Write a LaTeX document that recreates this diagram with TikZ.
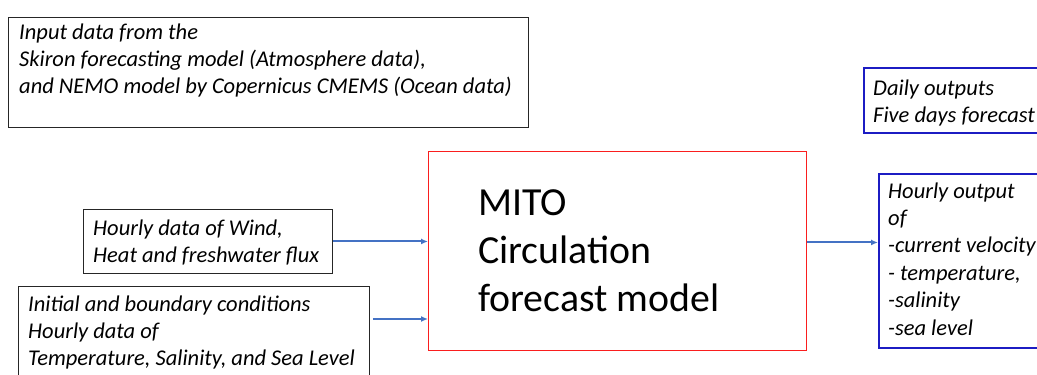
\documentclass[tikz,border=0pt]{standalone}
\usepackage{fontspec}
\setmainfont{Carlito}
\usetikzlibrary{arrows.meta}
\definecolor{arrblue}{RGB}{68,114,196}
\definecolor{boxblue}{RGB}{28,28,195}
\definecolor{boxred}{RGB}{250,30,30}
\tikzset{
  txt/.style={anchor=base west, align=left, inner sep=0pt, font=\fontsize{22.5}{27}\selectfont\itshape},
  bigtxt/.style={anchor=base west, align=left, inner sep=0pt, font=\fontsize{39.8}{48}\selectfont},
  blkbox/.style={draw=black!85, line width=0.9pt, anchor=north west, inner sep=0pt},
  bluebox/.style={draw=boxblue, line width=1.8pt, anchor=north west, inner sep=0pt},
  redbox/.style={draw=boxred, line width=0.9pt, anchor=north west, inner sep=0pt},
  arr/.style={draw=arrblue, line width=2pt, -{Latex[length=7pt,width=6pt]}}
}
\begin{document}
\begin{tikzpicture}[x=1pt,y=-1pt]
\clip (0,0) rectangle (1037,375);
% boxes
\node[blkbox, minimum width=520pt, minimum height=110pt] (top) at (8,17) {};
\node[blkbox, minimum width=249pt, minimum height=64pt] (wind) at (83,209) {};
\node[blkbox, minimum width=351pt, minimum height=100pt] (init) at (18,286) {};
\node[redbox, minimum width=378pt, minimum height=199pt] (red) at (428,151) {};
\node[bluebox, minimum width=190pt, minimum height=65pt] (daily) at (863,67) {};
\node[bluebox, minimum width=175pt, minimum height=174pt] (out) at (878,173) {};
% texts (anchored at the baseline of the last line)
\node[txt] (toptext) at (19,93) {Input data from the\\Skiron forecasting model (Atmosphere data),\\and NEMO model by Copernicus CMEMS (Ocean data)};
\node[txt] (windtext) at (93,262) {Hourly data of Wind,\\Heat and freshwater flux};
\node[txt] (inittext) at (28,365) {Initial and boundary conditions\\Hourly data of\\Temperature, Salinity, and Sea Level};
\node[bigtxt] (redtext) at (478,311) {MITO\\Circulation\\forecast model};
\node[txt] (dailytext) at (873,122) {Daily outputs\\Five days forecast};
\node[txt, font=\fontsize{22.5}{27.4}\selectfont\itshape] (outtext) at (888,335) {Hourly output\\of\\-current velocity\\- temperature,\\-salinity\\-sea level};
% connectors
\draw[arr] (wind.east) -- (wind.east -| red.west);
\draw[arr] ([xshift=3pt,yshift=-33pt]init.north east) -- ([yshift=-33pt]init.north east -| red.west);
\draw[arr] ([yshift=8.5pt]red.east) -- ([yshift=8.5pt]red.east -| out.west);
\end{tikzpicture}
\end{document}
